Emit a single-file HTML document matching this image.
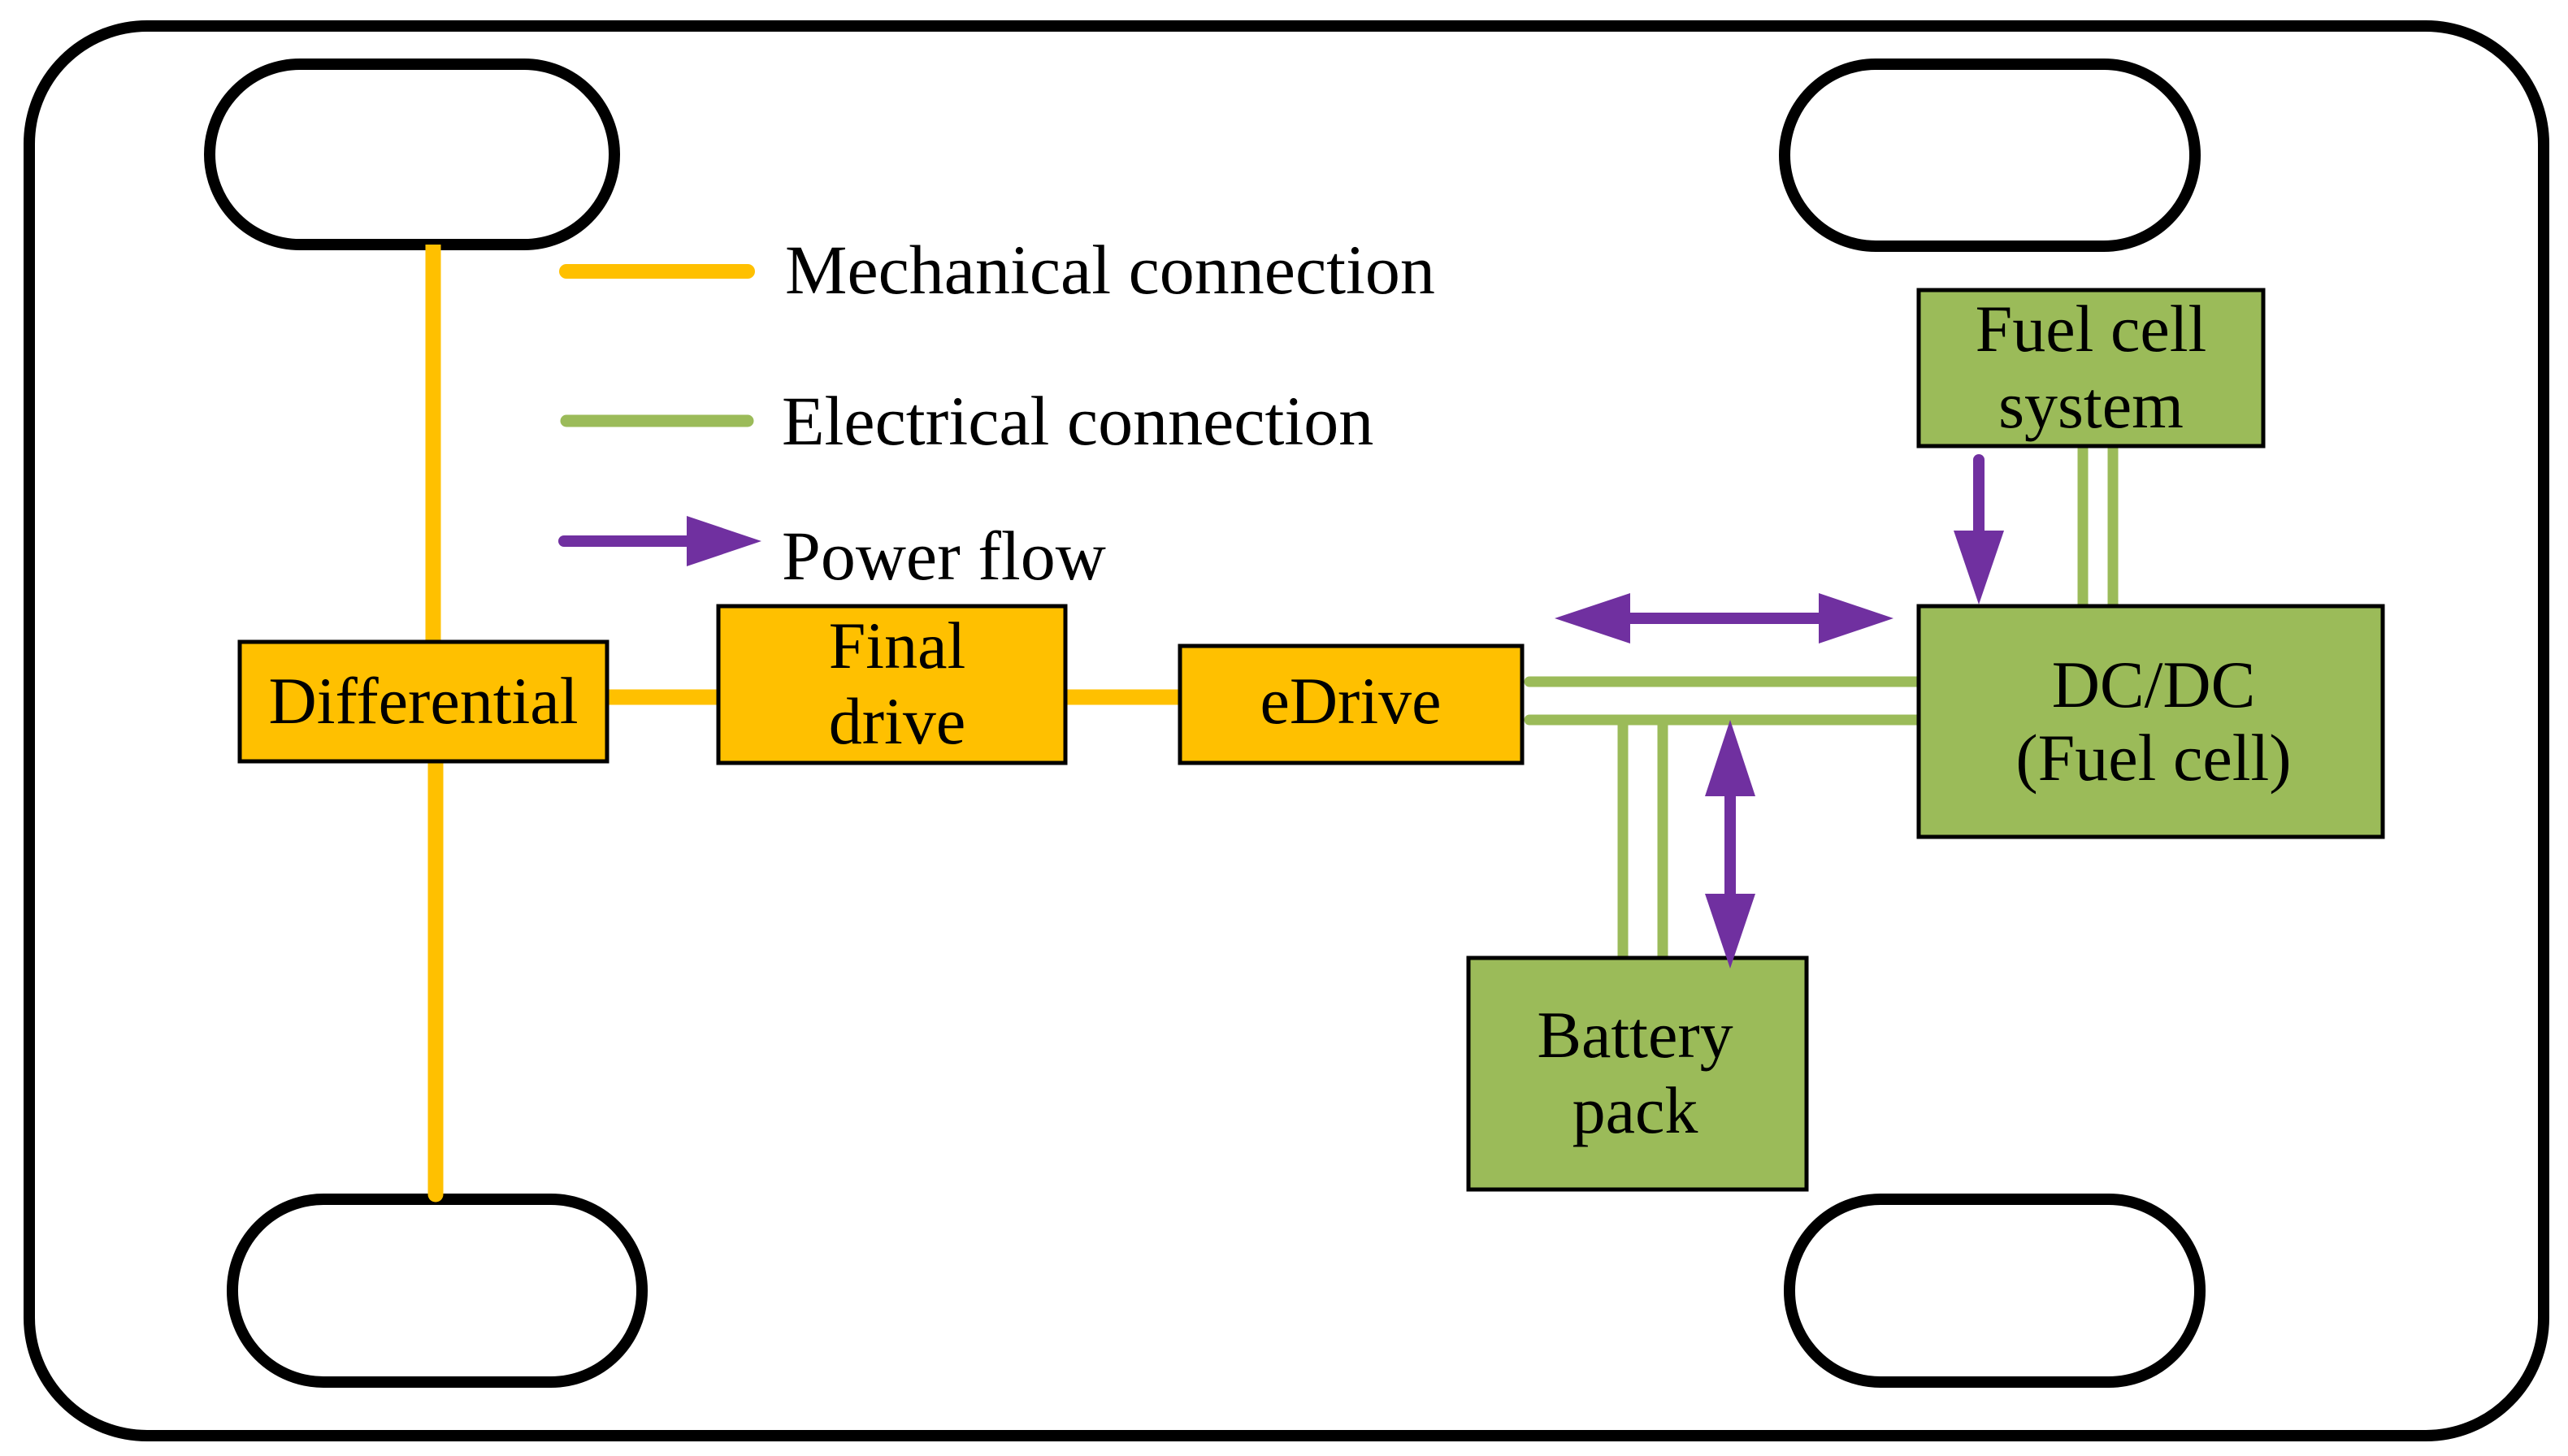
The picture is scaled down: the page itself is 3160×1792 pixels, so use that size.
<!DOCTYPE html>
<html><head><meta charset="utf-8"><style>html,body{margin:0;padding:0;background:#fff}svg{display:block}</style></head>
<body>
<svg width="3160" height="1792" viewBox="0 0 3160 1792" xmlns="http://www.w3.org/2000/svg" font-family="'Liberation Serif', serif" font-size="82">
<rect x="36" y="32" width="3094" height="1735" rx="145" fill="#fff" stroke="#000" stroke-width="14"/>
<!-- wheels -->
<rect x="258" y="79" width="498" height="222" rx="111" fill="#fff" stroke="#000" stroke-width="14"/>
<rect x="2196" y="79" width="505" height="224" rx="112" fill="#fff" stroke="#000" stroke-width="14"/>
<rect x="286" y="1476" width="504" height="225" rx="112" fill="#fff" stroke="#000" stroke-width="14"/>
<rect x="2202" y="1476" width="505" height="225" rx="112" fill="#fff" stroke="#000" stroke-width="14"/>
<!-- axles -->
<line x1="533" y1="301" x2="533" y2="795" stroke="#FFC000" stroke-width="19"/>
<line x1="536" y1="937" x2="536" y2="1470" stroke="#FFC000" stroke-width="19" stroke-linecap="round"/>
<line x1="745" y1="858" x2="884" y2="858" stroke="#FFC000" stroke-width="19" stroke-linecap="round"/>
<line x1="1311" y1="858" x2="1450" y2="858" stroke="#FFC000" stroke-width="19" stroke-linecap="round"/>
<!-- legend -->
<line x1="697" y1="334" x2="920" y2="334" stroke="#FFC000" stroke-width="18" stroke-linecap="round"/>
<line x1="697" y1="518" x2="920" y2="518" stroke="#9BBB59" stroke-width="15" stroke-linecap="round"/>
<line x1="694" y1="666" x2="850" y2="666" stroke="#7030A0" stroke-width="14" stroke-linecap="round"/>
<polygon points="845,635 937,666 845,697" fill="#7030A0"/>
<g font-size="86">
<text x="966" y="361">Mechanical connection</text>
<text x="962" y="547">Electrical connection</text>
<text x="962" y="713">Power flow</text>
</g>
<!-- boxes -->
<rect x="295" y="790" width="452" height="147" fill="#FFC000" stroke="#000" stroke-width="5"/>
<text x="521" y="890" text-anchor="middle">Differential</text>
<rect x="884" y="746" width="427" height="193" fill="#FFC000" stroke="#000" stroke-width="5"/>
<text x="1104" y="822" text-anchor="middle">Final</text>
<text x="1104" y="915" text-anchor="middle">drive</text>
<rect x="1452" y="795" width="421" height="144" fill="#FFC000" stroke="#000" stroke-width="5"/>
<text x="1662" y="890" text-anchor="middle">eDrive</text>
<!-- electrical lines -->
<line x1="1882" y1="839" x2="2361" y2="839" stroke="#9BBB59" stroke-width="13" stroke-linecap="round"/>
<line x1="1882" y1="886" x2="2358" y2="886" stroke="#9BBB59" stroke-width="13" stroke-linecap="round"/>
<line x1="1997" y1="886" x2="1997" y2="1176" stroke="#9BBB59" stroke-width="13" stroke-linecap="round"/>
<line x1="2046" y1="886" x2="2046" y2="1180" stroke="#9BBB59" stroke-width="13"/>
<line x1="2563" y1="552" x2="2563" y2="748" stroke="#9BBB59" stroke-width="13" stroke-linecap="round"/>
<line x1="2600" y1="552" x2="2600" y2="748" stroke="#9BBB59" stroke-width="13" stroke-linecap="round"/>
<rect x="2361" y="357" width="424" height="192" fill="#9BBB59" stroke="#000" stroke-width="5"/>
<text x="2573" y="432" text-anchor="middle">Fuel cell</text>
<text x="2573" y="526" text-anchor="middle">system</text>
<rect x="2361" y="746" width="571" height="284" fill="#9BBB59" stroke="#000" stroke-width="5"/>
<text x="2650" y="870" text-anchor="middle">DC/DC</text>
<text x="2650" y="960" text-anchor="middle">(Fuel cell)</text>
<rect x="1807" y="1179" width="416" height="285" fill="#9BBB59" stroke="#000" stroke-width="5"/>
<text x="2012" y="1301" text-anchor="middle">Battery</text>
<text x="2012" y="1394" text-anchor="middle">pack</text>
<!-- purple arrows -->
<line x1="2005" y1="761" x2="2240" y2="761" stroke="#7030A0" stroke-width="14"/>
<polygon points="1913,761 2006,730 2006,792" fill="#7030A0"/>
<polygon points="2330,761 2238,730 2238,792" fill="#7030A0"/>
<line x1="2129" y1="975" x2="2129" y2="1105" stroke="#7030A0" stroke-width="14"/>
<polygon points="2129,886 2098,980 2160,980" fill="#7030A0"/>
<polygon points="2129,1192 2098,1100 2160,1100" fill="#7030A0"/>
<line x1="2435" y1="566" x2="2435" y2="660" stroke="#7030A0" stroke-width="14" stroke-linecap="round"/>
<polygon points="2435,744 2404,653 2466,653" fill="#7030A0"/>
</svg>
</body></html>
